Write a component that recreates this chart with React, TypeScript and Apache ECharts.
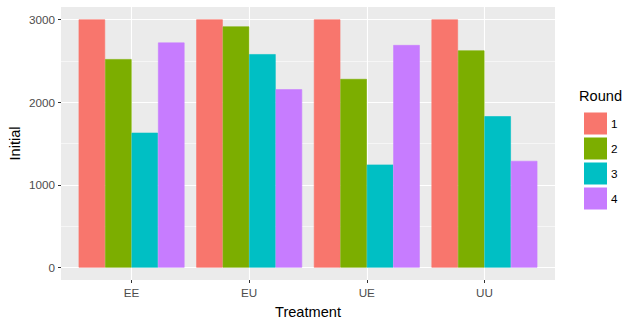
import React, { useEffect, useRef } from "react";
import * as echarts from "echarts";

const treatments = ["EE", "EU", "UE", "UU"];
const roundNames = ["1", "2", "3", "4"];
const round1 = [3000, 3000, 3000, 3000];
const round2 = [2520, 2915, 2280, 2625];
const round3 = [1630, 2580, 1245, 1830];
const round4 = [2720, 2155, 2690, 1290];
const yTicks = [0, 1000, 2000, 3000];
const yMinor = [500, 1500, 2500];
const colors = ["#F8766D", "#7CAE00", "#00BFC4", "#C77CFF"];

const FONT = "Liberation Sans, Arial, sans-serif";

export default function App() {
  const ref = useRef<HTMLDivElement>(null);
  useEffect(() => {
    if (!ref.current) return;
    const chart = echarts.init(ref.current, null, { renderer: "svg" });
    const panelLeft = 61;
    const panelTop = 7;
    const panelW = 494;
    const panelH = 273;
    const unit = panelW / 4.2;
    const seriesData = [round1, round2, round3, round4];
    const option: any = {
      animation: false,
      backgroundColor: "#FFFFFF",
      textStyle: { fontFamily: FONT },
      grid: [
        {
          left: panelLeft,
          top: panelTop,
          width: panelW,
          height: panelH,
          show: true,
          backgroundColor: "#EBEBEB",
          borderWidth: 0,
        },
        {
          left: panelLeft + unit * 0.1,
          top: panelTop,
          width: unit * 4,
          height: panelH,
          show: false,
        },
      ],
      xAxis: [
        {
          gridIndex: 0,
          type: "value",
          min: 0.4,
          max: 4.6,
          show: false,
        },
        {
          gridIndex: 1,
          type: "category",
          data: treatments,
          axisLine: { show: false, onZero: false },
          axisTick: {
            show: true,
            alignWithLabel: true,
            length: 3,
            lineStyle: { color: "#333333", width: 1 },
          },
          axisLabel: {
            color: "#4D4D4D",
            fontSize: 11.7,
            fontFamily: FONT,
            margin: 6,
          },
          splitLine: { show: false },
        },
      ],
      yAxis: [
        {
          gridIndex: 0,
          type: "value",
          min: -150,
          max: 3150,
          axisLine: { show: false, onZero: false },
          axisTick: {
            show: true,
            length: 3,
            customValues: yTicks,
            lineStyle: { color: "#333333", width: 1 },
          },
          axisLabel: {
            customValues: yTicks,
            formatter: (v: number) => String(v),
            color: "#4D4D4D",
            fontSize: 11.7,
            fontFamily: FONT,
            margin: 6,
          },
          splitLine: { show: false },
        },
        {
          gridIndex: 1,
          type: "value",
          min: -150,
          max: 3150,
          show: false,
        },
      ],
      legend: {
        orient: "vertical",
        left: 579,
        top: 107.5,
        icon: "rect",
        itemWidth: 21,
        itemHeight: 20,
        itemGap: 3,
        data: roundNames,
        textStyle: { color: "#000000", fontSize: 11.7, fontFamily: FONT },
        selectedMode: false,
      },
      graphic: [
        {
          type: "text",
          left: 579,
          top: 88,
          style: {
            text: "Round",
            fontSize: 14.6,
            fontFamily: FONT,
            fill: "#000000",
          },
        },
        {
          type: "text",
          x: 308,
          y: 312,
          style: {
            text: "Treatment",
            fontSize: 14.6,
            fontFamily: FONT,
            fill: "#000000",
            align: "center",
            verticalAlign: "middle",
          },
        },
        {
          type: "text",
          x: 15,
          y: 143.5,
          rotation: Math.PI / 2,
          style: {
            text: "Initial",
            fontSize: 14.6,
            fontFamily: FONT,
            fill: "#000000",
            align: "center",
            verticalAlign: "middle",
          },
        },
      ],
      series: [
        {
          type: "line",
          xAxisIndex: 0,
          yAxisIndex: 0,
          data: [[0.4, -150]],
          showSymbol: false,
          silent: true,
          z: 0,
          zlevel: 0,
          lineStyle: { width: 0 },
          markLine: {
            silent: true,
            symbol: "none",
            animation: false,
            z: 0,
            label: { show: false },
            data: [
              ...yMinor.map((v) => ({
                yAxis: v,
                lineStyle: { color: "#FFFFFF", width: 0.55, type: "solid" },
              })),
              ...yTicks.map((v) => ({
                yAxis: v,
                lineStyle: { color: "#FFFFFF", width: 1.1, type: "solid" },
              })),
              ...treatments.map((_, i) => ({
                xAxis: i + 1,
                lineStyle: { color: "#FFFFFF", width: 1.1, type: "solid" },
              })),
            ],
          },
        },
        ...seriesData.map((arr, i) => ({
          name: roundNames[i],
          type: "bar",
          xAxisIndex: 1,
          yAxisIndex: 1,
          data: arr,
          barGap: "0%",
          barCategoryGap: "10%",
          itemStyle: { color: colors[i], borderColor: colors[i], borderWidth: 0.6 },
          z: 10,
        })),
      ],
    };
    chart.setOption(option);
    return () => chart.dispose();
  }, []);
  return (
    <div
      ref={ref}
      style={{ position: "fixed", left: 0, top: 0, width: 636, height: 324, background: "#FFFFFF" }}
    />
  );
}
